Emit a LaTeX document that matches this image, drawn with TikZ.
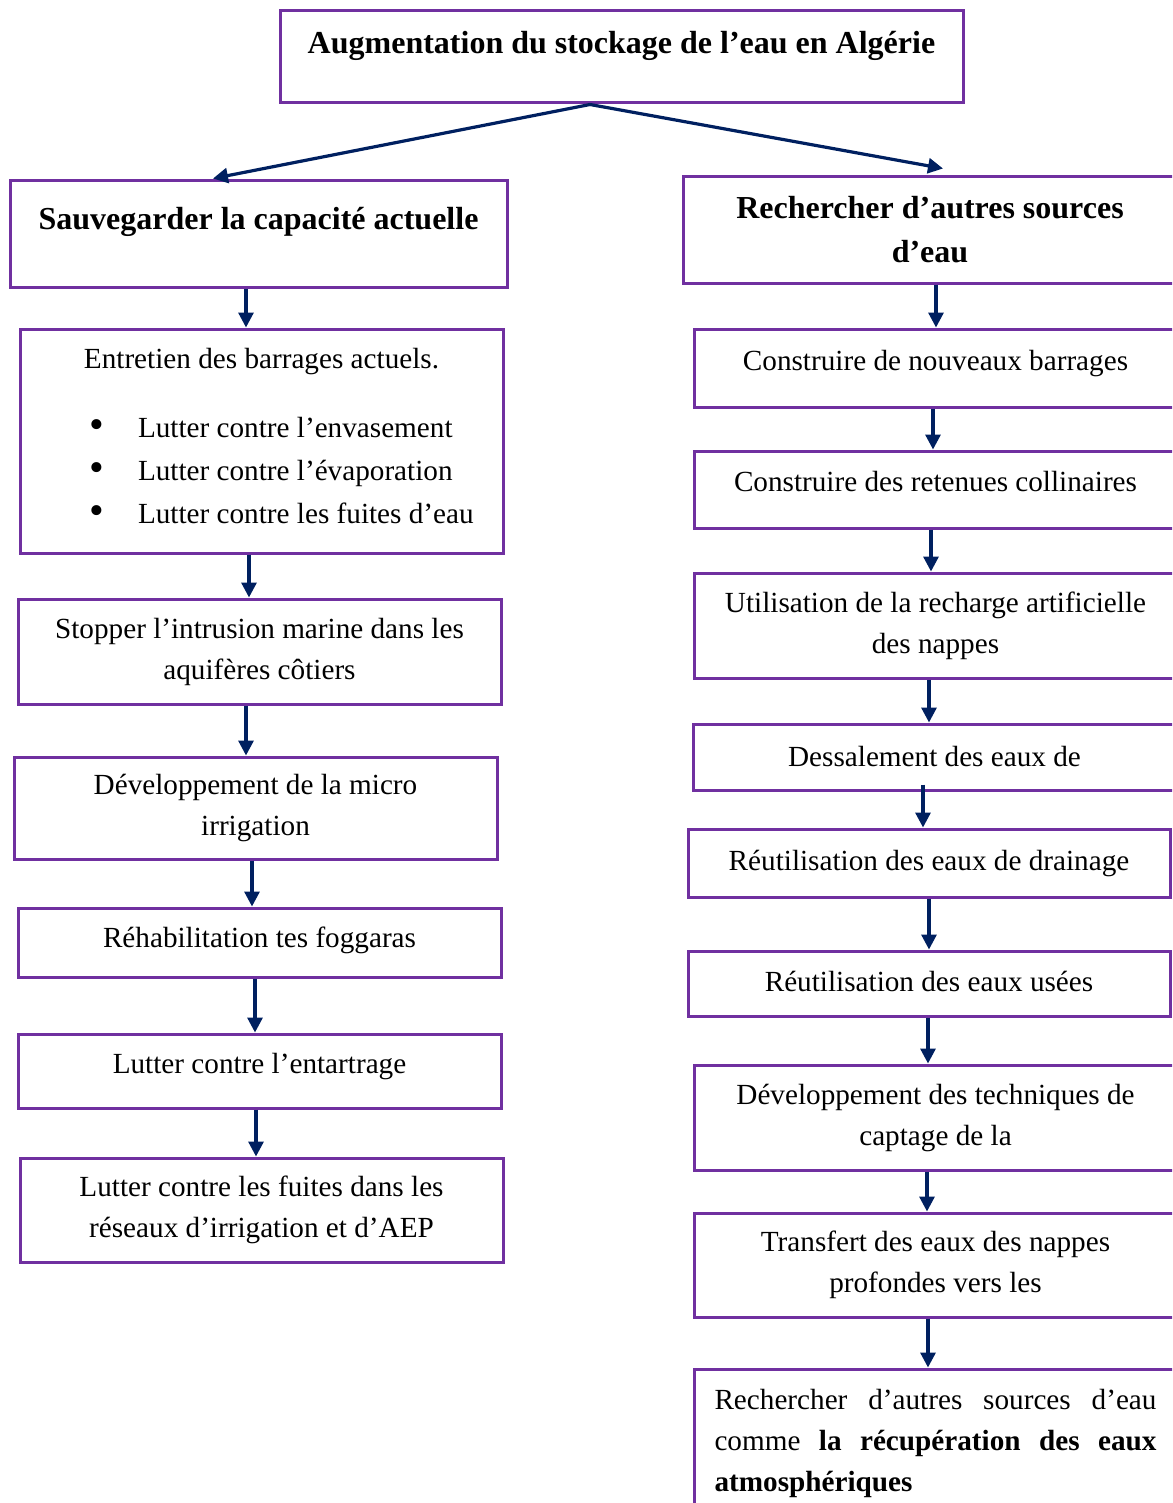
\documentclass[tikz,border=0pt]{standalone}
\usepackage{fontspec}
\setmainfont{Liberation Serif}
\usetikzlibrary{arrows.meta}
\definecolor{boxpurple}{HTML}{7030A0}
\definecolor{arrownavy}{HTML}{002060}
\tikzset{>={Triangle[width=7.5pt,length=7.5pt]},
  box/.style={draw=boxpurple,line width=1.5pt,rectangle,align=center,inner sep=4pt,
    font=\fontsize{14.6}{20.5}\selectfont},
  head/.style={box,font=\fontsize{16}{22}\selectfont\bfseries},
  flow/.style={->,draw=arrownavy,line width=1.6pt}}
\newcommand{\bul}{\hspace*{29.5pt}\makebox[24.5pt][l]{\raisebox{-0.6pt}{\fontsize{21}{20}\selectfont\textbullet}}}

\begin{document}
\begin{tikzpicture}[x=0.5pt,y=-0.5pt]
  \useasboundingbox (0,0) rectangle (1172,1503);
  \clip (0,0) rectangle (1172,1503);
  % top
  \node [head,minimum width=341.5pt,minimum height=46pt,text depth=14.5pt] (top) at (621.5,57)
    {Augmentation du stockage de l’eau en Algérie};
  % left column
  \node [head,minimum width=248.5pt,minimum height=53pt,text depth=15.5pt] (L0) at (258.5,234)
    {Sauvegarder la capacité actuelle};
  \node [box,minimum width=241.5pt,minimum height=112pt,align=flush left,inner xsep=5pt,
    text width=231.5pt,text depth=82.5pt] (L1) at (261.5,441)
    {\makebox[231.5pt]{Entretien des barrages actuels.}\\[14pt]
     \bul Lutter contre l’envasement\\[1pt]
     \bul Lutter contre l’évaporation\\[1pt]
     \bul Lutter contre les fuites d’eau};
  \node [box,minimum width=241.5pt,minimum height=52.5pt] (L2) at (259.5,651.5)
    {Stopper l’intrusion marine dans les\\aquifères côtiers};
  \node [box,minimum width=241.5pt,minimum height=51pt] (L3) at (255.5,808)
    {Développement de la micro\\irrigation};
  \node [box,minimum width=241.5pt,minimum height=34.5pt,text depth=5pt] (L4) at (259.5,942.5)
    {Réhabilitation tes foggaras};
  \node [box,minimum width=241.5pt,minimum height=37pt,text depth=8pt] (L5) at (259.5,1071)
    {Lutter contre l’entartrage};
  \node [box,minimum width=241.5pt,minimum height=52pt] (L6) at (261.5,1210)
    {Lutter contre les fuites dans les\\réseaux d’irrigation et d’AEP};
  % right column
  \node [head,minimum width=247pt,minimum height=53pt] (R0) at (930,230)
    {Rechercher d’autres sources\\d’eau};
  \node [box,minimum width=241.5pt,minimum height=39pt,text depth=8pt] (R1) at (935.5,368)
    {Construire de nouveaux barrages};
  \node [box,minimum width=241.5pt,minimum height=38.5pt,text depth=8pt] (R2) at (935.5,489.5)
    {Construire des retenues collinaires};
  \node [box,minimum width=241.5pt,minimum height=52.5pt] (R3) at (935.5,625.5)
    {Utilisation de la recharge artificielle\\des nappes};
  \node [box,minimum width=241.5pt,minimum height=33pt] (R4) at (934.5,757)
    {Dessalement des eaux de};
  \node [box,minimum width=241pt,minimum height=34pt] (R5) at (929,863)
    {Réutilisation des eaux de drainage};
  \node [box,minimum width=241pt,minimum height=32.5pt,text depth=2.2pt] (R6) at (929,983.5)
    {Réutilisation des eaux usées};
  \node [box,minimum width=241.5pt,minimum height=52.5pt] (R7) at (935.5,1117.5)
    {Développement des techniques de\\captage de la};
  \node [box,minimum width=241.5pt,minimum height=52pt] (R8) at (935.5,1265)
    {Transfert des eaux des nappes\\profondes vers les};
  \node [box,minimum width=241.5pt,minimum height=80pt,align=justify,inner xsep=10.25pt,
    text width=221pt,text depth=49.2pt] (R9) at (935.5,1449)
    {Rechercher d’autres sources d’eau\linebreak comme \textbf{la récupération des eaux}\linebreak
     \textbf{atmosphériques}};
  % arrows
  \draw [flow] ([xshift=-15.75pt]top.south) -- ([xshift=-22.75pt,yshift=0.5pt]L0.north);
  \draw [flow] ([xshift=-15.75pt]top.south) -- ([xshift=6.5pt,yshift=3.5pt]R0.north);
  \foreach \a/\b/\dx in {L0/L1/-6.25,L1/L2/-6.25,L2/L3/-6.75,L3/L4/-1.75,L4/L5/-2.25,L5/L6/-1.75,
    R0/R1/3,R1/R2/-1.25,R2/R3/-2.25,R3/R4/-3.25,R5/R6/0,R6/R7/-0.5,R7/R8/-4.25,R8/R9/-3.75}
    \draw [flow] ([xshift=\dx pt]\a.south) -- ([xshift=\dx pt]\a.south |- \b.north);
  \draw [flow,shorten <=-3.5pt] ([xshift=-5.75pt]R4.south) -- ([xshift=-5.75pt]R4.south |- R5.north);
\end{tikzpicture}
\end{document}
